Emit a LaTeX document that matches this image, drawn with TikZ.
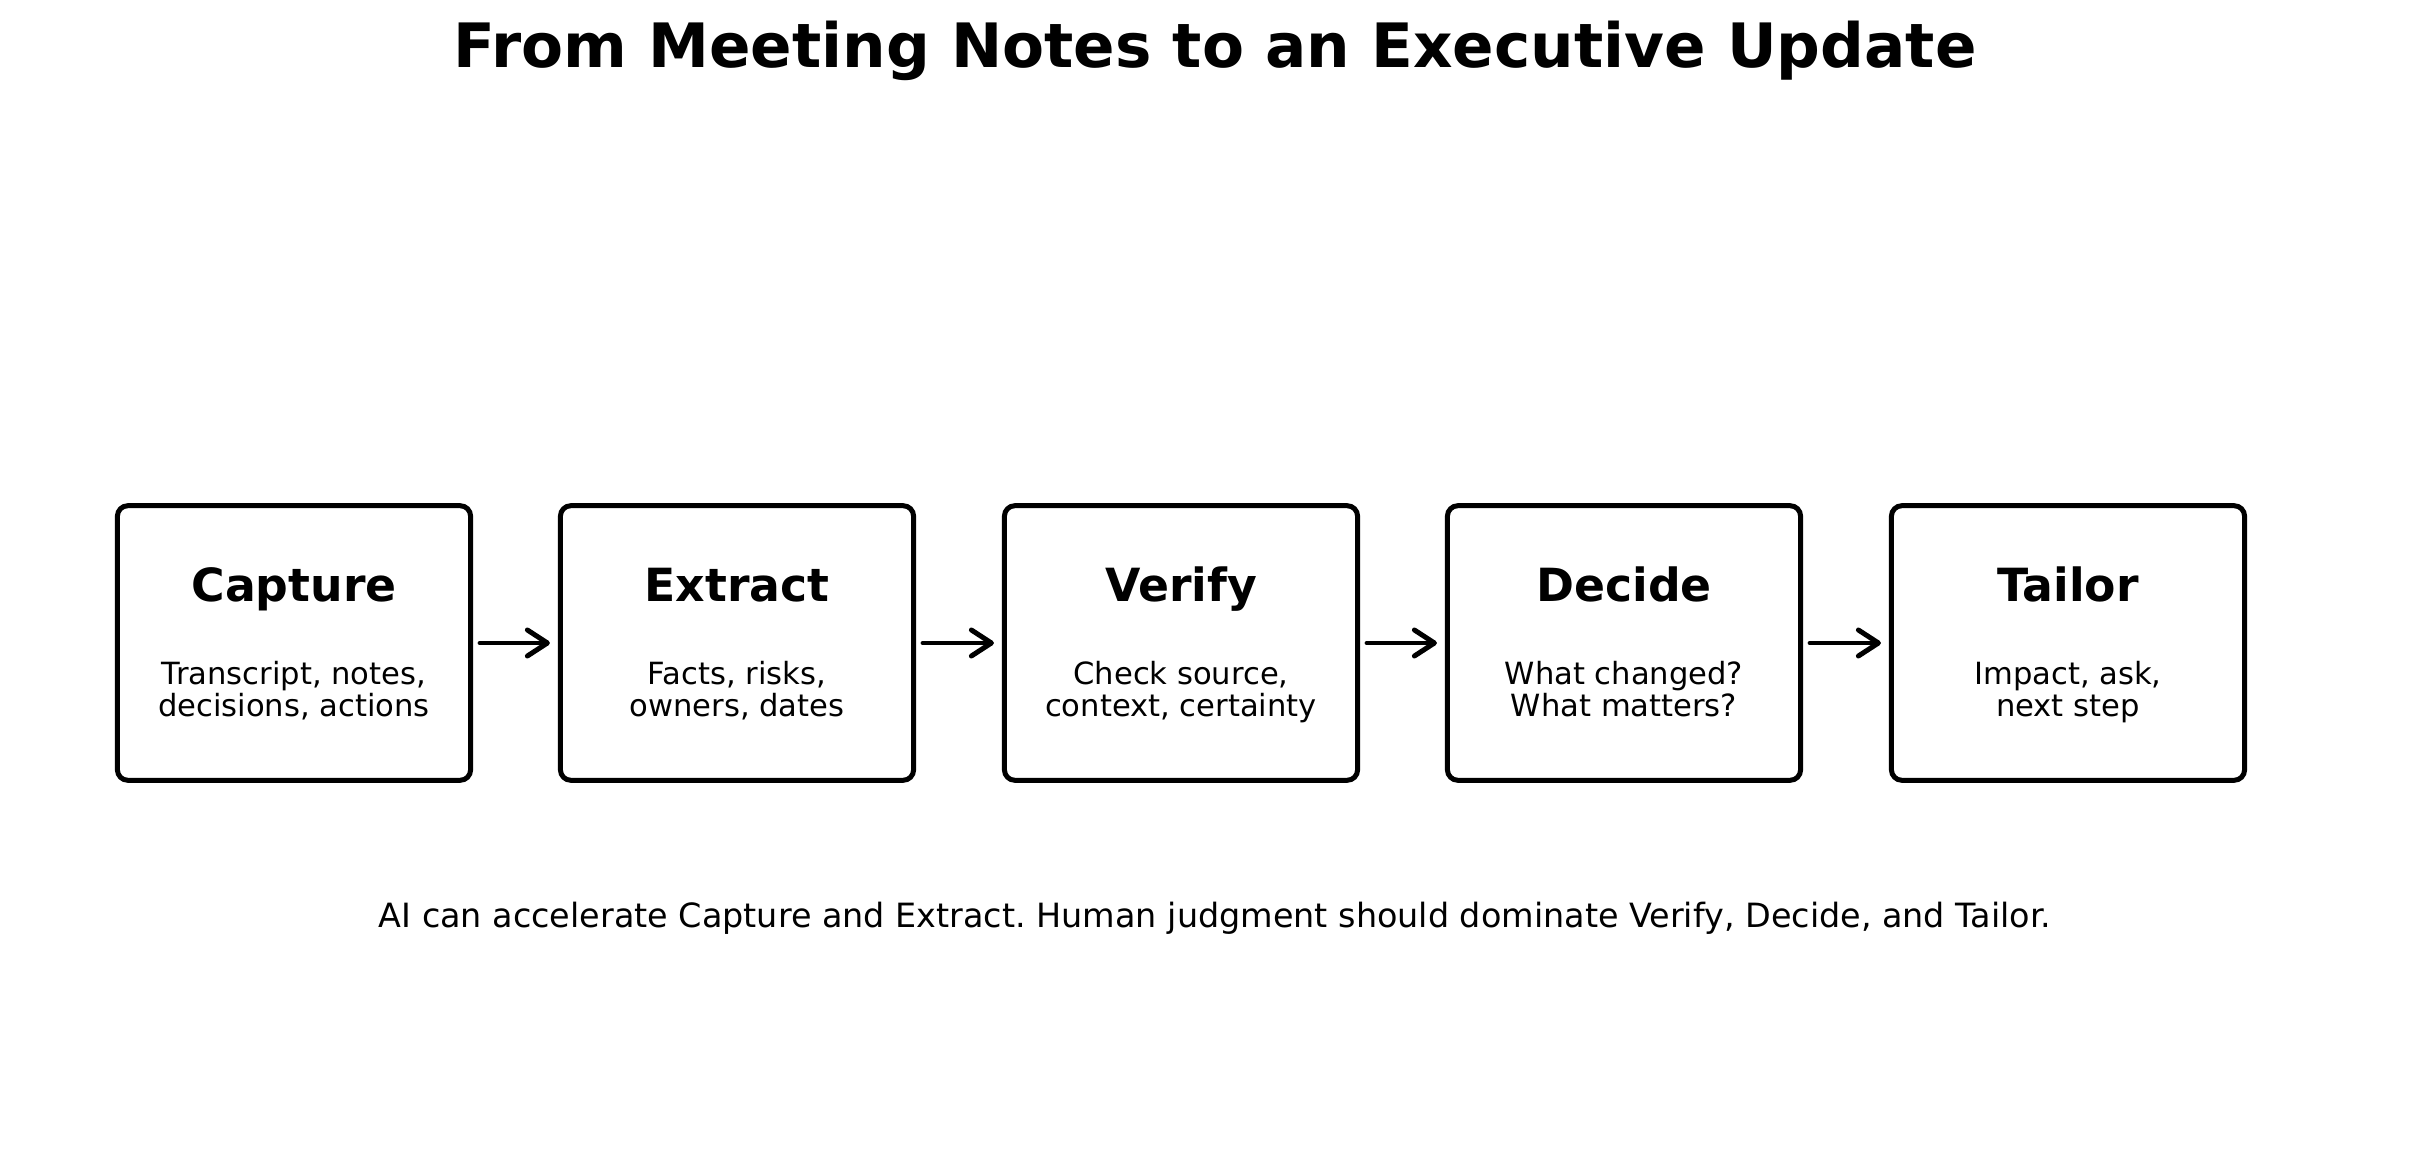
\documentclass[tikz,border=0pt]{standalone}
\usepackage{fontspec}
\setmainfont{DejaVu Sans}
\frenchspacing
\usetikzlibrary{arrows.meta}
\tikzset{stage/.style={draw=black, line width=1.42pt, rounded corners=3pt,
                       minimum width=3.53cm, minimum height=2.745cm, inner sep=0pt},
         stagehead/.style={anchor=base, inner sep=0pt, font=\fontsize{13}{15}\selectfont\bfseries},
         stagetext/.style={anchor=base, inner sep=0pt, align=center, font=\fontsize{8.7}{9.1}\selectfont},
         flow/.style={line width=1.42pt, line cap=round, shorten <=0.7mm, shorten >=0.8mm,
                      -{Straight Barb[length=2mm,width=2.6mm,round]}}
}

\begin{document}
\begin{tikzpicture}[x=0.01cm, y=-0.01cm]
      \useasboundingbox (0,0) rectangle (2430,1161);
      \node[anchor=base, inner sep=0pt, font=\fontsize{17.4}{20}\selectfont\bfseries] (title) at (1215,68) {From Meeting Notes to an Executive Update};
      % the five stages
      \node[stage] (capture) at (294,643) {};
      \node[stage] (extract) at (737,643) {};
      \node[stage] (verify)  at (1181,643) {};
      \node[stage] (decide)  at (1624,643) {};
      \node[stage] (tailor)  at (2068,643) {};
      \node[stagehead] (capturehead) at (294,601) {Capture};
      \node[stagehead] (extracthead) at (737,601) {Extract};
      \node[stagehead] (verifyhead)  at (1181,601) {Verify};
      \node[stagehead] (decidehead)  at (1624,601) {Decide};
      \node[stagehead] (tailorhead)  at (2068,601) {Tailor};
      \node[stagetext] (capturetext) at (294,716) {Transcript, notes,\\decisions, actions};
      \node[stagetext] (extracttext) at (737,716) {Facts, risks,\\owners, dates};
      \node[stagetext] (verifytext)  at (1181,716) {Check source,\\context, certainty};
      \node[stagetext] (decidetext)  at (1624,716) {What changed?\\What matters?};
      \node[stagetext] (tailortext)  at (2068,716) {Impact, ask,\\next step};
      \draw[flow] (capture) -- (extract);
      \draw[flow] (extract) -- (verify);
      \draw[flow] (verify) -- (decide);
      \draw[flow] (decide) -- (tailor);
      \node[anchor=base, inner sep=0pt, font=\fontsize{9.5}{11}\selectfont] (note) at (1215,927) {AI can accelerate Capture and Extract. Human judgment should dominate Verify, Decide, and Tailor.};
    \end{tikzpicture}
\end{document}
